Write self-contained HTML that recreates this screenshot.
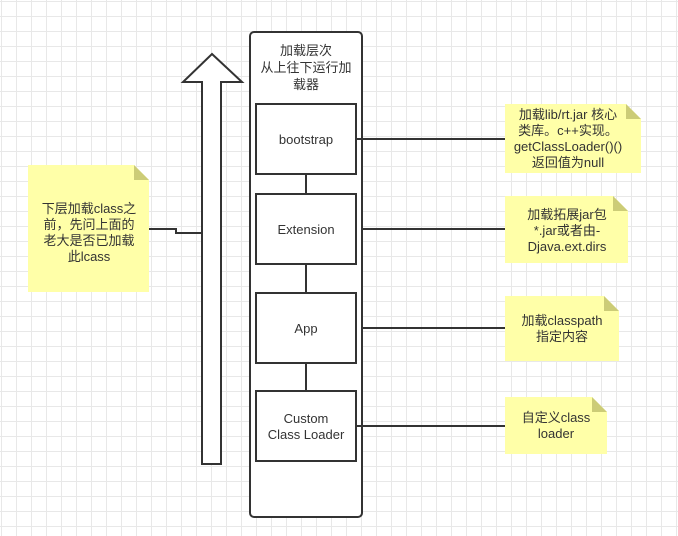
<!DOCTYPE html>
<html><head><meta charset="utf-8"><style>
body{margin:0;width:678px;height:536px;overflow:hidden;background:#fff;
background-image:linear-gradient(#e8e8e8 1px,transparent 1px),linear-gradient(90deg,#e8e8e8 1px,transparent 1px);
background-size:15px 15px;background-position:0 1px,1px 0;}
svg{position:absolute;left:0;top:0}
text{font-family:"Liberation Sans","Noto Sans CJK SC",sans-serif;font-size:13px;fill:#333;text-anchor:middle}
</style></head><body>
<svg width="678" height="536">
<g stroke="#333" stroke-width="2" fill="none">
<rect x="250" y="32" width="112" height="485" rx="4" fill="#fff"/>
<polygon points="212,54 242,82 221,82 221,464 202,464 202,82 183,82" fill="#fff"/>
<line x1="306" y1="174" x2="306" y2="194"/>
<line x1="306" y1="264" x2="306" y2="293"/>
<line x1="306" y1="363" x2="306" y2="391"/>
<line x1="356" y1="139" x2="505" y2="139"/>
<line x1="362" y1="229" x2="505" y2="229"/>
<line x1="362" y1="328" x2="505" y2="328"/>
<line x1="356" y1="426" x2="505" y2="426"/>
<polyline points="149,229 176,229 176,233 202,233"/>
<rect x="256" y="104" width="100" height="70" fill="#fff"/>
<rect x="256" y="194" width="100" height="70" fill="#fff"/>
<rect x="256" y="293" width="100" height="70" fill="#fff"/>
<rect x="256" y="391" width="100" height="70" fill="#fff"/>
</g>
<g>
<polygon points="28,165 134,165 149,180 149,292 28,292" fill="#ffffa8"/><polygon points="134,165 149,180 134,180" fill="#cccc77"/>
<polygon points="505,104 626,104 641,119 641,173 505,173" fill="#ffffa8"/><polygon points="626,104 641,119 626,119" fill="#cccc77"/>
<polygon points="505,196 613,196 628,211 628,263 505,263" fill="#ffffa8"/><polygon points="613,196 628,211 613,211" fill="#cccc77"/>
<polygon points="505,296 604,296 619,311 619,361 505,361" fill="#ffffa8"/><polygon points="604,296 619,311 604,311" fill="#cccc77"/>
<polygon points="505,397 592,397 607,412 607,454 505,454" fill="#ffffa8"/><polygon points="592,397 607,412 592,412" fill="#cccc77"/>
</g>
<text x="306" y="55">加载层次</text>
<text x="306" y="72">从上往下运行加</text>
<text x="306" y="89">载器</text>
<text x="306" y="144">bootstrap</text>
<text x="306" y="234">Extension</text>
<text x="306" y="333">App</text>
<text x="306" y="423">Custom</text>
<text x="306" y="439">Class Loader</text>
<text x="89" y="213">下层加载class之</text>
<text x="89" y="229">前，先问上面的</text>
<text x="89" y="245">老大是否已加载</text>
<text x="89" y="261">此lcass</text>
<text x="568" y="119">加载lib/rt.jar 核心</text>
<text x="568" y="135">类库。c++实现。</text>
<text x="568" y="151">getClassLoader()()</text>
<text x="568" y="167">返回值为null</text>
<text x="567" y="219">加载拓展jar包</text>
<text x="567" y="235">*.jar或者由-</text>
<text x="567" y="251">Djava.ext.dirs</text>
<text x="562" y="325">加载classpath</text>
<text x="562" y="341">指定内容</text>
<text x="556" y="422">自定义class</text>
<text x="556" y="438">loader</text>
</svg>
</body></html>
